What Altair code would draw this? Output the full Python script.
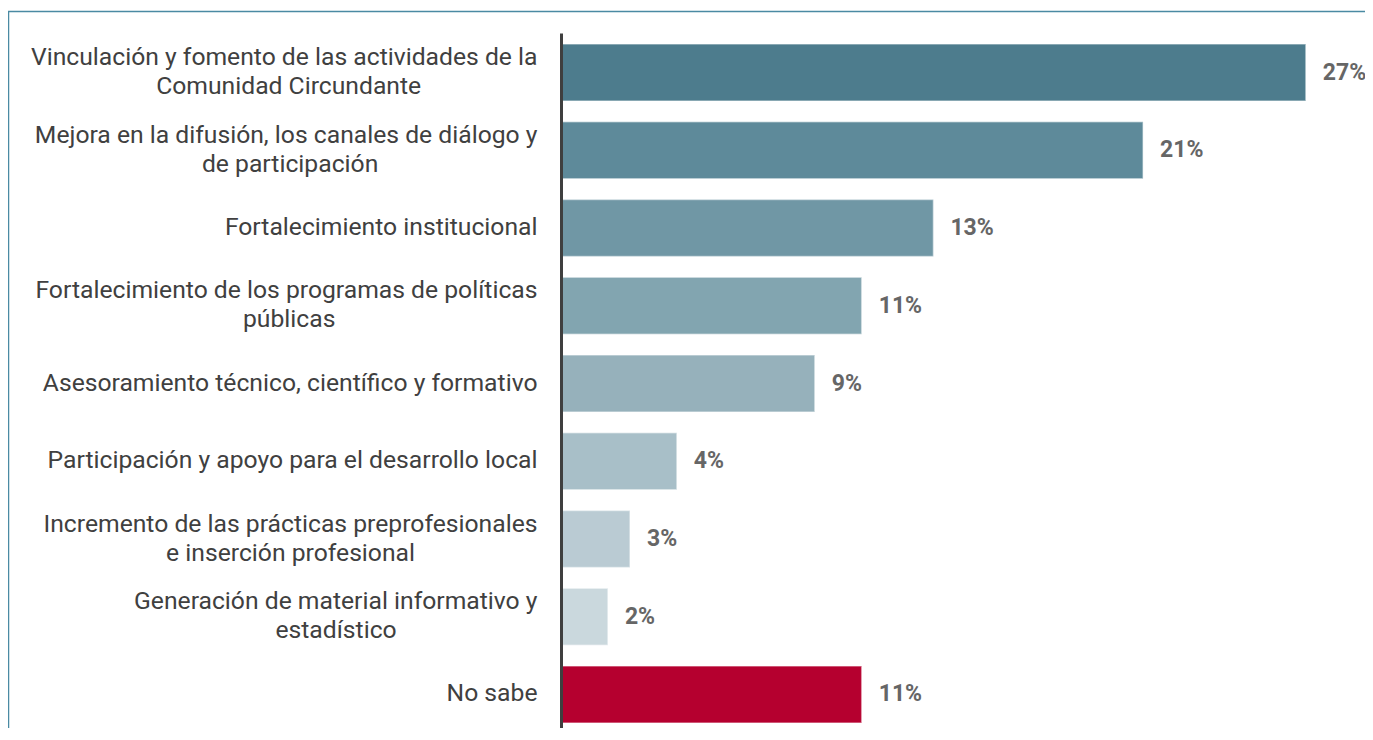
import altair as alt
import pandas as pd

categories = [
    "Vinculación y fomento de las actividades de la|Comunidad Circundante",
    "Mejora en la difusión, los canales de diálogo y|de participación",
    "Fortalecimiento institucional",
    "Fortalecimiento de los programas de políticas|públicas",
    "Asesoramiento técnico, científico y formativo",
    "Participación y apoyo para el desarrollo local",
    "Incremento de las prácticas preprofesionales|e inserción profesional",
    "Generación de material informativo y|estadístico",
    "No sabe",
]
values = [27.0, 21.1, 13.5, 10.9, 9.2, 4.2, 2.5, 1.7, 10.9]
labels = ["27%", "21%", "13%", "11%", "9%", "4%", "3%", "2%", "11%"]
colors = ["#4d7c8d", "#5e8a9a", "#7097a5", "#82a5b0", "#96b1bb",
          "#a8bfc8", "#bacbd3", "#cad8dd", "#b5002f"]
# non-breaking spaces after a second line so that it sits centred under the first
second_line_pad = [19, 26, 0, 33, 0, 0, 20, 23, 0]

NB = "\u00a0"
ZW = "\u200b"


def display(cat, pad):
    parts = cat.split("|")
    if len(parts) == 2:
        return parts[0] + "|" + ZW + "|" + parts[1] + NB * pad + ZW
    return ZW + "|" + cat


shown = [display(c, p) for c, p in zip(categories, second_line_pad)]

df = pd.DataFrame({"cat": shown, "value": values, "label": labels})

base = alt.Chart(df).encode(
    y=alt.Y(
        "cat:N",
        sort=shown,
        scale=alt.Scale(paddingInner=0.267, paddingOuter=0.103, align=0.6875),
        axis=alt.Axis(
            title=None, ticks=False, domain=True, domainColor="#3f3f3f",
            domainWidth=3, labelExpr="split(datum.label, '|')",
            labelFont="Roboto", labelFontSize=24.7, labelColor="#404040",
            labelPadding=24, labelLimit=0, labelLineHeight=14.5,
            labelOffset=-14.5, zindex=1,
            labelAlign="right", labelBaseline="middle",
        ),
    )
)

bars = base.mark_bar(stroke="white", strokeOpacity=0.45, strokeWidth=1.5).encode(
    x=alt.X("value:Q", scale=alt.Scale(domain=[0, 29], nice=False), axis=None),
    color=alt.Color("cat:N", scale=alt.Scale(domain=shown, range=colors), legend=None),
)

text = base.mark_text(
    align="left", dx=17, font="Roboto", fontSize=23, fontWeight="bold", color="#666666"
).encode(x=alt.X("value:Q"), text="label:N")

frame_left = alt.Chart(alt.Data(values=[{"k": 0}])).mark_rule(
    color="#4a8aa3", strokeWidth=1.5
).encode(x=alt.value(-552.5), y=alt.value(-21.5), y2=alt.value(760))

frame_top = alt.Chart(alt.Data(values=[{"k": 0}])).mark_rule(
    color="#4a8aa3", strokeWidth=1.5
).encode(x=alt.value(-553), x2=alt.value(900), y=alt.value(-21.5))

chart = alt.layer(bars, text, frame_left, frame_top).properties(
    width=800, height=695,
    autosize=alt.AutoSizeParams(type="none"),
    padding={"left": 553, "top": 25, "right": 4, "bottom": 0},
).configure_view(stroke=None)

chart.save("out.html", embed_options={"renderer": "svg", "actions": False})
